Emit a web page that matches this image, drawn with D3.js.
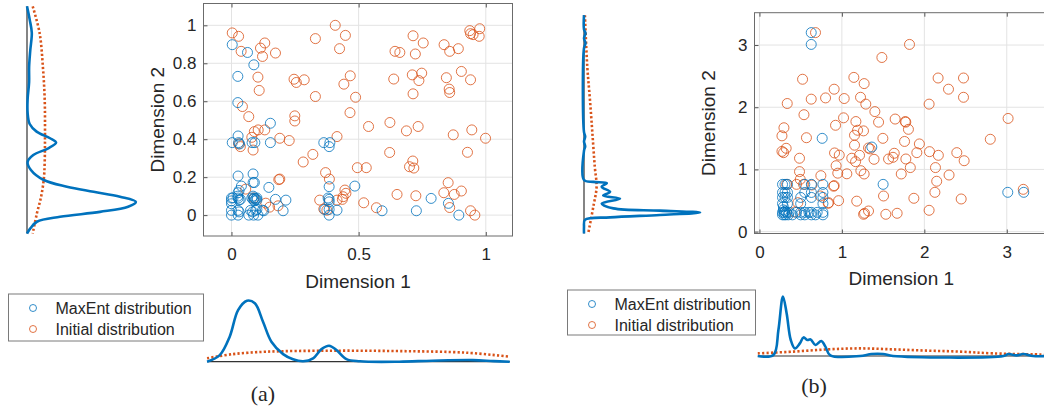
<!DOCTYPE html>
<html>
<head>
<meta charset="utf-8">
<script src="https://cdn.jsdelivr.net/npm/d3@7"></script>
<style>
	body { margin: 0; background: #fff; }
	svg text { font-family: "Liberation Sans", Arial, sans-serif; fill: #262626; }
	.panel-tag { font-family: "Liberation Serif", "Times New Roman", serif; }
</style>
</head>
<body>
<svg id="fig" width="1044" height="411"></svg>
<script>
// ---- panel (a): scatter samples [dim1, dim2]
var initialA = [
	[0.003,0.96],[0.028,0.942],[0.038,0.863],[0.131,0.907],[0.114,0.88],[0.122,0.836],[0.173,0.854],
	[0.104,0.727],[0.109,0.657],[0.043,0.572],[0.068,0.519],[0.09,0.44],[0.105,0.449],[0.131,0.449],
	[0.08,0.41],[0.028,0.375],[0.035,0.361],[0.085,0.343],[0.19,0.405],[0.227,0.393],[0.249,0.523],
	[0.249,0.496],[0.246,0.716],[0.255,0.699],[0.286,0.713],[0.33,0.93],[0.408,1.0],[0.448,0.947],
	[0.425,0.877],[0.442,0.69],[0.467,0.734],[0.488,0.621],[0.33,0.625],[0.466,0.54],[0.415,0.414],
	[0.32,0.32],[0.282,0.28],[0.37,0.224],[0.385,0.19],[0.186,0.187],[0.19,0.19],[0.495,0.25],
	[0.53,0.25],[0.539,0.467],[0.623,0.488],[0.622,0.33],[0.688,0.444],[0.734,0.467],[0.70,0.255],
	[0.713,0.285],[0.717,0.248],[0.638,0.717],[0.643,0.863],[0.662,0.857],[0.714,0.945],[0.754,0.907],
	[0.723,0.849],[0.711,0.739],[0.748,0.748],[0.737,0.709],[0.714,0.639],[0.845,0.724],[0.856,0.664],
	[0.858,0.646],[0.904,0.757],[0.94,0.713],[0.836,0.898],[0.858,0.863],[0.892,0.877],[0.937,0.972],
	[0.95,0.951],[0.976,0.982],[0.974,0.942],[0.94,0.956],[0.872,0.423],[0.945,0.449],[0.999,0.405],
	[0.928,0.331],[0.852,0.171],[0.835,0.118],[0.876,0.109],[0.904,0.127],[0.858,0.04],[0.94,0.023],
	[0.957,0.0],[0.651,0.109],[0.725,0.102],[0.57,0.039],[0.52,0.065],[0.446,0.132],[0.45,0.115],
	[0.439,0.097],[0.436,0.083],[0.415,0.079],[0.347,0.079],[0.363,0.032],[0.375,0.026],[0.183,0.049],
	[0.135,0.063],[0.15,0.042],[0.056,0.137],[0.088,0.09]
];
var maxEntA = [
	[0.003,0.898],[0.063,0.857],[0.088,0.792],[0.025,0.731],[0.025,0.593],[0.153,0.484],[0.026,0.417],
	[0.003,0.382],[0.028,0.382],[0.032,0.375],[0.081,0.382],[0.092,0.382],[0.153,0.382],[0.363,0.382],
	[0.387,0.382],[0.384,0.361],[0.026,0.206],[0.085,0.217],[0.085,0.172],[0.09,0.172],[0.039,0.153],
	[0.147,0.146],[0.026,0.118],[0.03,0.13],[0.384,0.15],[0.485,0.153],
	[0.0,0.09],[0.0,0.075],[0.0,0.06],[0.006,0.091],[0.026,0.09],[0.03,0.08],[0.035,0.083],[0.025,0.1],
	[0.08,0.09],[0.085,0.083],[0.09,0.09],[0.095,0.085],[0.1,0.09],[0.085,0.1],[0.09,0.075],[0.1,0.08],
	[0.0,0.025],[0.0,0.0],[0.026,0.025],[0.026,0.0],[0.03,0.017],[0.068,0.0],[0.075,0.025],[0.083,0.017],
	[0.087,0.0],[0.095,0.025],[0.104,0.0],[0.1,0.03],[0.122,0.026],[0.173,0.083],[0.214,0.079],
	[0.203,0.023],[0.127,0.023],[0.384,0.083],[0.384,0.07],[0.38,0.09],[0.384,0.03],[0.384,0.0],
	[0.367,0.03],[0.415,0.026],[0.592,0.023],[0.727,0.023],[0.785,0.088],[0.853,0.062],[0.894,0.0]
];

// ---- panel (b)
var initialB = [
	[0.68,3.2],[1.82,3.01],[1.485,2.8],[0.523,2.45],[1.145,2.48],[1.27,2.38],[0.906,2.29],[0.628,2.13],
	[0.802,2.15],[1.028,2.14],[1.226,2.16],[1.29,2.05],[1.4,1.93],[0.337,2.06],[0.54,1.88],[1.02,1.83],
	[1.17,1.77],[1.445,1.76],[1.646,1.81],[1.768,1.77],[1.775,1.76],[1.807,1.645],[1.19,1.63],[1.153,1.55],
	[1.262,1.62],[0.297,1.67],[0.273,1.54],[0.57,1.51],[0.923,1.71],[1.497,1.5],[1.76,1.45],[1.94,1.41],
	[1.153,1.39],[1.323,1.345],[1.343,1.33],[0.324,1.34],[0.273,1.29],[0.293,1.27],[0.911,1.265],
	[0.968,1.23],[1.12,1.18],[1.166,1.125],[1.214,1.227],[1.39,1.163],[1.566,1.168],[1.635,1.26],
	[1.62,1.195],[1.776,1.168],[1.909,1.27],[2.063,1.286],[2.17,1.227],[2.394,1.27],[2.483,1.14],
	[2.8,1.485],[3.016,1.82],[2.058,2.05],[2.167,2.47],[2.293,2.29],[2.475,2.47],[2.475,2.16],
	[0.486,1.18],[0.486,0.965],[0.495,0.84],[0.745,0.9],[0.906,0.74],[0.93,1.06],[0.95,0.94],[1.06,0.93],
	[1.23,0.98],[1.27,0.927],[1.72,0.927],[1.83,1.03],[2.135,1.03],[2.15,0.81],[2.3,0.91],[2.128,0.632],
	[1.505,0.573],[1.873,0.536],[2.447,0.525],[3.2,0.68],[0.96,0.498],[0.834,0.455],[1.18,0.49],
	[1.323,0.332],[1.275,0.295],[1.263,0.279],[1.533,0.279],[1.67,0.295],[2.058,0.343],[0.426,0.316],
	[0.33,0.76],[0.45,0.76],[0.535,0.76],[0.636,0.75],[0.9,0.73],[0.737,0.574],[0.838,0.466],[0.466,0.466]
];
var maxEntB = [
	[0.628,3.2],[0.628,3.01],[0.761,1.5],[1.363,1.36],[1.5,0.76],[3.012,0.632],[3.206,0.632],
	[0.28,0.76],[0.31,0.76],[0.34,0.76],[0.55,0.76],[0.63,0.76],[0.77,0.76],
	[0.28,0.63],[0.31,0.63],[0.34,0.63],[0.55,0.63],[0.63,0.63],[0.77,0.63],
	[0.28,0.55],[0.31,0.55],[0.34,0.55],[0.5,0.55],[0.63,0.55],[0.77,0.55],
	[0.28,0.45],[0.34,0.45],[0.5,0.45],[0.77,0.45],
	[0.28,0.31],[0.3,0.31],[0.31,0.33],[0.33,0.31],[0.36,0.31],[0.45,0.31],[0.5,0.31],[0.55,0.31],
	[0.6,0.31],[0.63,0.31],[0.7,0.31],[0.77,0.31],
	[0.28,0.27],[0.3,0.27],[0.32,0.27],[0.35,0.27],[0.4,0.27],[0.5,0.27],[0.55,0.27],[0.63,0.27],
	[0.68,0.27],[0.77,0.27],[0.29,0.35],[0.29,0.4]
];

// ---- marginal densities: [coordinate, density]
var densYMaxEntA = [[1.10,0],[1.03,0.09],[0.96,0.16],[0.87,0.11],[0.78,0.07],[0.70,0.07],[0.61,0.02],
	[0.54,0.02],[0.48,0.09],[0.44,0.32],[0.405,0.77],[0.382,0.97],[0.352,0.71],[0.317,0.21],[0.28,0.02],
	[0.238,0.13],[0.185,0.56],[0.15,1.33],[0.123,2.22],[0.097,3.1],[0.07,3.63],[0.044,3.37],[0.017,2.43],
	[-0.009,1.1],[-0.035,0.33],[-0.07,0.11],[-0.097,0]];
var densYInitialA = [[1.10,0.19],[0.96,0.42],[0.78,0.53],[0.61,0.59],[0.44,0.6],[0.28,0.59],[0.19,0.56],
	[0.097,0.47],[0.009,0.33],[-0.097,0.19]];
var densXMaxEntA = [[-0.096,0],[-0.046,0.33],[-0.007,1.25],[0.026,2.58],[0.061,3.05],[0.092,2.92],
	[0.124,2.0],[0.157,1.0],[0.203,0.38],[0.242,0.12],[0.282,0.02],[0.321,0.17],[0.354,0.63],[0.384,0.8],
	[0.413,0.58],[0.452,0.13],[0.505,0.02],[0.66,0],[0.79,0.05],[0.95,0.08],[1.03,0.03],[1.094,0]];
var densXInitialA = [[-0.096,0.17],[0.006,0.38],[0.138,0.5],[0.4,0.55],[0.662,0.53],[0.924,0.45],[1.094,0.25]];

var densYMaxEntB = [[3.48,0],[3.25,0],[3.19,0.05],[3.11,0],[3.03,0.05],[2.95,0],[1.6,0],[1.53,0.04],
	[1.45,0],[1.37,0.04],[1.3,0],[0.83,0],[0.80,0.31],[0.78,0.76],[0.72,0.59],[0.64,0.87],[0.58,0.64],
	[0.53,1.2],[0.45,0.59],[0.374,0.98],[0.338,2.53],[0.306,3.87],[0.268,2.53],[0.23,0.87],[0.19,0.03],
	[0.08,0],[-0.03,0]];
var densYInitialB = [[3.48,0.03],[2.65,0.11],[2.11,0.2],[1.58,0.28],[1.04,0.36],[0.72,0.42],[0.40,0.31],[-0.03,0.14]];
var densXMaxEntB = [[-0.02,0],[0.17,0.05],[0.23,1.3],[0.285,2.97],[0.33,2.13],[0.38,0.8],[0.43,0.38],
	[0.49,0.63],[0.535,0.93],[0.58,0.8],[0.62,0.83],[0.68,0.55],[0.75,0.75],[0.80,0.47],[0.86,0.03],
	[1.22,0],[1.36,0.1],[1.50,0.1],[1.62,0],[2.96,0],[3.02,0.1],[3.12,0.03],[3.2,0.1],[3.32,0],[3.5,0]];
var densXInitialB = [[-0.02,0.13],[0.41,0.22],[0.82,0.33],[1.22,0.38],[1.63,0.33],[2.03,0.27],[2.43,0.22],
	[2.84,0.13],[3.5,0.07]];

var xTicksA = [0, 0.5, 1];
var yTicksA = [0, 0.2, 0.4, 0.6, 0.8, 1];
var xTicksB = [0, 1, 2, 3];
var yTicksB = [0, 1, 2, 3];
var seriesNames = ['MaxEnt distribution', 'Initial distribution'];

var blue = '#0072BD', orange = '#D95319';
var svg = d3.select('#fig');
svg.append('rect').attr('width', 1044).attr('height', 411).attr('fill', '#fff');

var panels = [
	{ tag: '(a)', tagX: 263, tagY: 401,
		box: { left: 203.5, right: 512.5, top: 3.5, bottom: 236 },
		xDomain: [-0.11, 1.105], yDomain: [-0.11, 1.115], xTicks: xTicksA, yTicks: yTicksA,
		maxEnt: maxEntA, initial: initialA,
		side: { base: 27, perUnit: 30, maxEnt: densYMaxEntA, initial: densYInitialA },
		bottom: { base: 361.7, perUnit: 20, maxEnt: densXMaxEntA, initial: densXInitialA },
		legend: { x: 8.5, y: 294, w: 195, h: 47 },
		xLabelY: 288 },
	{ tag: '(b)', tagX: 814, tagY: 393,
		box: { left: 754.5, right: 1048, top: 12.7, bottom: 233.5 },
		xDomain: [-0.06, 3.5], yDomain: [-0.03, 3.52], xTicks: xTicksB, yTicks: yTicksB,
		maxEnt: maxEntB, initial: initialB,
		side: { base: 584, perUnit: 30, maxEnt: densYMaxEntB, initial: densYInitialB },
		bottom: { base: 356, perUnit: 20, maxEnt: densXMaxEntB, initial: densXInitialB },
		legend: { x: 567.5, y: 290, w: 188, h: 45 },
		xLabelY: 285 }
];

panels.forEach(drawPanel);

function drawPanel(p) {
	var b = p.box;
	var x = d3.scaleLinear().domain(p.xDomain).range([b.left, b.right]);
	var y = d3.scaleLinear().domain(p.yDomain).range([b.bottom, b.top]);
	var g = svg.append('g');

	// grid
	var grid = g.append('g').attr('stroke', '#e3e3e3').attr('stroke-width', 1);
	p.xTicks.forEach(function(t) {
		grid.append('line').attr('x1', x(t)).attr('x2', x(t)).attr('y1', b.top).attr('y2', b.bottom);
	});
	p.yTicks.forEach(function(t) {
		grid.append('line').attr('x1', b.left).attr('x2', b.right).attr('y1', y(t)).attr('y2', y(t));
	});

	// axes, ticks pointing in like matlab
	var fmt = d3.format('~g');
	var ax = g.append('g').attr('transform', 'translate(0,' + b.bottom + ')')
		.call(d3.axisBottom(x).tickValues(p.xTicks).tickFormat(fmt).tickSizeInner(-4).tickSizeOuter(0).tickPadding(12));
	var ay = g.append('g').attr('transform', 'translate(' + b.left + ',0)')
		.call(d3.axisLeft(y).tickValues(p.yTicks).tickFormat(fmt).tickSizeInner(-4).tickSizeOuter(0).tickPadding(7));
	g.append('g').attr('transform', 'translate(0,' + b.top + ')')
		.call(d3.axisTop(x).tickValues(p.xTicks).tickFormat('').tickSizeInner(-4).tickSizeOuter(0));
	[ax, ay].forEach(function(a) {
		a.selectAll('text').style('font-size', '17px').attr('fill', '#262626');
	});
	g.selectAll('.domain').remove();
	g.selectAll('.tick line').attr('stroke', '#555');
	g.append('rect').attr('x', b.left).attr('y', b.top)
		.attr('width', b.right - b.left).attr('height', b.bottom - b.top)
		.attr('fill', 'none').attr('stroke', '#6b6b6b').attr('stroke-width', 1);

	g.append('text').attr('x', (b.left + b.right) / 2).attr('y', p.xLabelY)
		.attr('text-anchor', 'middle').style('font-size', '19px').text('Dimension 1');
	var midY = (b.top + b.bottom) / 2;
	g.append('text').attr('transform', 'translate(' + (b.left - 40) + ',' + midY + ') rotate(-90)')
		.attr('text-anchor', 'middle').style('font-size', '19px').text('Dimension 2');

	// scatter: initial first, maxent on top
	var dots = g.append('g').attr('fill', 'none').attr('stroke-width', 1);
	dots.selectAll('.ini').data(p.initial).enter().append('circle')
		.attr('cx', function(d) { return x(d[0]); }).attr('cy', function(d) { return y(d[1]); })
		.attr('r', 5).attr('stroke', orange).attr('stroke-opacity', 0.8);
	dots.selectAll('.me').data(p.maxEnt).enter().append('circle')
		.attr('cx', function(d) { return x(d[0]); }).attr('cy', function(d) { return y(d[1]); })
		.attr('r', 5).attr('stroke', blue).attr('stroke-opacity', 0.8);

	// side marginal (density of dimension 2)
	var s = p.side;
	var sx = d3.scaleLinear().domain([0, 1]).range([s.base, s.base + s.perUnit]);
	var sideLine = d3.line().curve(d3.curveCatmullRom.alpha(0.5))
		.x(function(d) { return sx(d[1]); }).y(function(d) { return y(d[0]); });
	var yExt = d3.extent(s.maxEnt, function(d) { return d[0]; });
	g.append('line').attr('x1', s.base).attr('x2', s.base).attr('y1', y(yExt[0])).attr('y2', y(yExt[1]))
		.attr('stroke', '#333').attr('stroke-width', 1.2);
	g.append('path').attr('d', sideLine(s.initial)).attr('fill', 'none').attr('stroke', orange)
		.attr('stroke-width', 2.6).attr('stroke-dasharray', '2.2,2.2');
	g.append('path').attr('d', sideLine(s.maxEnt)).attr('fill', 'none').attr('stroke', blue)
		.attr('stroke-width', 2.6);

	// bottom marginal (density of dimension 1)
	var m = p.bottom;
	var by = d3.scaleLinear().domain([0, 1]).range([m.base, m.base - m.perUnit]);
	var botLine = d3.line().curve(d3.curveCatmullRom.alpha(0.5))
		.x(function(d) { return x(d[0]); }).y(function(d) { return by(d[1]); });
	var xExt = d3.extent(m.maxEnt, function(d) { return d[0]; });
	g.append('line').attr('x1', x(xExt[0])).attr('x2', x(xExt[1])).attr('y1', m.base).attr('y2', m.base)
		.attr('stroke', '#333').attr('stroke-width', 1.2);
	g.append('path').attr('d', botLine(m.initial)).attr('fill', 'none').attr('stroke', orange)
		.attr('stroke-width', 2.6).attr('stroke-dasharray', '2.2,2.2');
	g.append('path').attr('d', botLine(m.maxEnt)).attr('fill', 'none').attr('stroke', blue)
		.attr('stroke-width', 2.6);

	// legend
	var L = p.legend;
	var lg = g.append('g').attr('transform', 'translate(' + L.x + ',' + L.y + ')');
	lg.append('rect').attr('width', L.w).attr('height', L.h).attr('fill', '#fff')
		.attr('stroke', '#7a7a7a').attr('stroke-width', 1);
	seriesNames.forEach(function(name, i) {
		var cy = 14 + i * 21;
		lg.append('circle').attr('cx', 24.5).attr('cy', cy).attr('r', 3.5).attr('fill', 'none')
			.attr('stroke', i === 0 ? blue : orange).attr('stroke-opacity', 0.8);
		lg.append('text').attr('x', 47).attr('y', cy).attr('dy', '0.36em')
			.style('font-size', '16px').text(name);
	});

	g.append('text').attr('class', 'panel-tag').attr('x', p.tagX).attr('y', p.tagY)
		.attr('text-anchor', 'middle').style('font-size', '22px').attr('fill', '#000').text(p.tag);
}
</script>
</body>
</html>
